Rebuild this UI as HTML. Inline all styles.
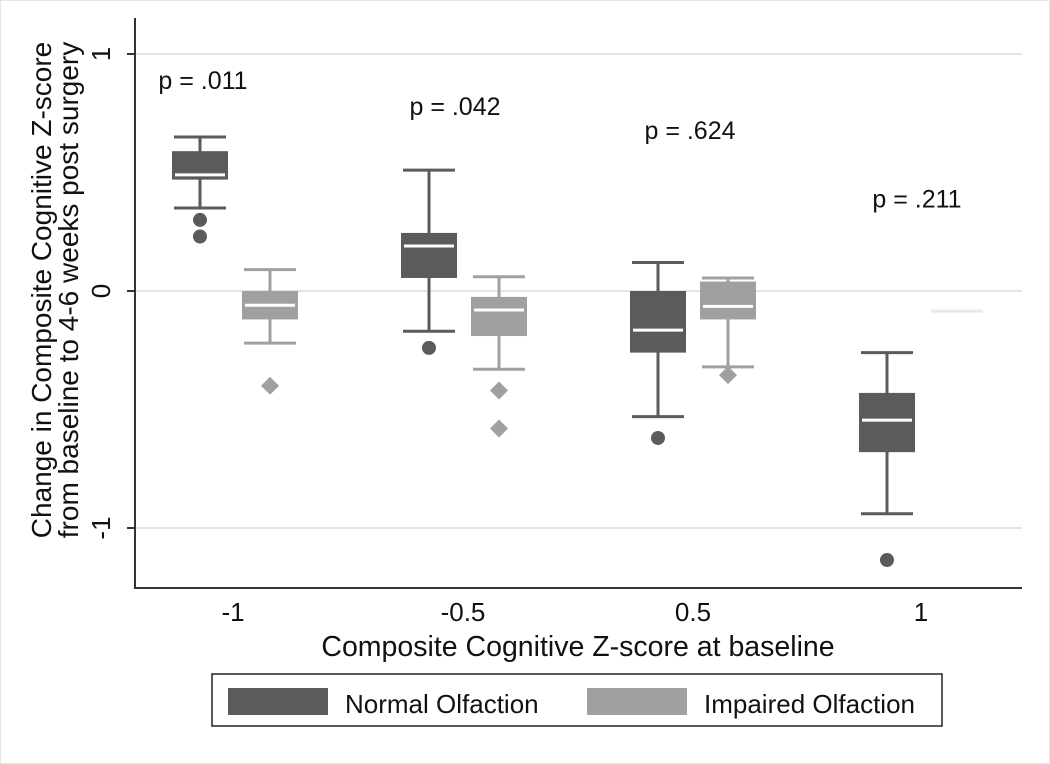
<!DOCTYPE html>
<html><head><meta charset="utf-8"><style>
html,body{margin:0;padding:0;background:#fff;overflow:hidden;width:1050px;height:764px}
svg{display:block;font-family:"Liberation Sans",Arial,sans-serif}
</style></head><body>
<svg id="c" width="1050" height="764" viewBox="0 0 1050 764">
<rect x="0.5" y="0.5" width="1049" height="763" fill="#fff" stroke="#e6e6e6"/>
<g id="grid"></g>
<g id="marks"></g>
<g id="axes"></g>
<g font-family="Liberation Sans, Arial, sans-serif" fill="#111">
<text x="51" y="290" font-size="28" text-anchor="middle" transform="rotate(-90 51 290)">Change in Composite Cognitive Z-score</text>
<text x="78" y="290" font-size="28" text-anchor="middle" transform="rotate(-90 78 290)">from baseline to 4-6 weeks post surgery</text>
<text x="578" y="656" font-size="28.5" text-anchor="middle">Composite Cognitive Z-score at baseline</text>
</g>
<g>
<rect x="212" y="674" width="730" height="52" fill="#fff" stroke="#222" stroke-width="1.5"/>
<rect x="228" y="688" width="100" height="27" fill="#5b5b5b"/>
<text x="345" y="713" font-size="26" fill="#111">Normal Olfaction</text>
<rect x="587" y="688" width="100" height="27" fill="#a0a0a0"/>
<text x="704" y="713" font-size="26" fill="#111">Impaired Olfaction</text>
</g>
</svg>
<script>
const groups = ["-1","-0.5","0.5","1"];
const pvals = ["p = .011","p = .042","p = .624","p = .211"];
const pvalY = [0.89, 0.78, 0.68, 0.39];
// [whiskerLow, q1, median, q3, whiskerHigh]
const normalStats = [[0.35,0.47,0.49,0.59,0.65],[-0.17,0.055,0.19,0.245,0.51],[-0.53,-0.26,-0.165,0.0,0.12],[-0.94,-0.68,-0.545,-0.43,-0.26]];
const impairedStats = [[-0.22,-0.12,-0.06,0.0,0.09],[-0.33,-0.19,-0.08,-0.025,0.06],[-0.32,-0.12,-0.065,0.04,0.055],[-0.085,-0.085,-0.085,-0.085,-0.085]];
const normalOutliers = [[0.30,0.23],[-0.24],[-0.62],[-1.135]];
const impairedOutliers = [[-0.40],[-0.42,-0.58],[-0.355],[]];
const yTicks = [1,0,-1];
const yTickLabels = ["1","0","-1"];

const NS='http://www.w3.org/2000/svg';
const X0=135,X1=1022,YT=18,YB=588;
function y(v){return 291-237*v;}
function xc(i,s){return 200+i*229+(s?70:0);}
function el(p,tag,a,txt){const e=document.createElementNS(NS,tag);for(const k in a)e.setAttribute(k,a[k]);if(txt!==undefined)e.textContent=txt;p.appendChild(e);return e;}
const grid=document.getElementById('grid'),marks=document.getElementById('marks'),axes=document.getElementById('axes');
yTicks.forEach((t,i)=>{
  const g=el(grid,'line',{x1:X0,x2:X1,y1:y(t),y2:y(t),stroke:'#e4e4e4','stroke-width':2});
  
  
  const tk=el(axes,'line',{x1:X0-8,x2:X0,y1:y(t),y2:y(t),stroke:'#333','stroke-width':2});
  
  
  const lb=el(axes,'text',{x:110,y:y(t),'font-size':26,'text-anchor':'middle',transform:`rotate(-90 110 ${y(t)})`,fill:'#111'},yTickLabels[i]);
  
  
});
function drawBox(st,i,s,col){
  const cx=xc(i,s),w=56,cap=52;
  const g=el(marks,'g',{});
  
  
  if(st[0]===st[4]){el(g,'line',{x1:cx-26,x2:cx+26,y1:y(st[2]),y2:y(st[2]),stroke:'#e8e8e8','stroke-width':3});return;}
  el(g,'line',{x1:cx,x2:cx,y1:y(st[4]),y2:y(st[0]),stroke:col,'stroke-width':3});
  el(g,'line',{x1:cx-cap/2,x2:cx+cap/2,y1:y(st[4]),y2:y(st[4]),stroke:col,'stroke-width':3});
  el(g,'line',{x1:cx-cap/2,x2:cx+cap/2,y1:y(st[0]),y2:y(st[0]),stroke:col,'stroke-width':3});
  el(g,'rect',{x:cx-w/2,y:y(st[3]),width:w,height:y(st[1])-y(st[3]),fill:col});
  el(g,'line',{x1:cx-w/2+3,x2:cx+w/2-3,y1:y(st[2]),y2:y(st[2]),stroke:'#fff','stroke-width':3});
}
normalStats.forEach((st,i)=>drawBox(st,i,0,'#5b5b5b'));
impairedStats.forEach((st,i)=>drawBox(st,i,1,'#a0a0a0'));
normalOutliers.forEach((arr,i)=>arr.forEach(v=>{
  const c=el(marks,'circle',{cx:xc(i,0),cy:y(v),r:7,fill:'#5b5b5b'});
  
  
}));
impairedOutliers.forEach((arr,i)=>arr.forEach(v=>{
  const cx=xc(i,1),cy=y(v);
  const d=el(marks,'polygon',{points:`${cx},${cy-9} ${cx+9},${cy} ${cx},${cy+9} ${cx-9},${cy}`,fill:'#a0a0a0'});
  
  
}));
const pX=[203,455,690,917];
pvals.forEach((p,i)=>{
  const t=el(marks,'text',{x:pX[i],y:y(pvalY[i])+9,'font-size':25,'text-anchor':'middle',fill:'#111'},p);
  
  
});
const xl=[233,463,693,921];
groups.forEach((g,i)=>{
  const t=el(axes,'text',{x:xl[i],y:621,'font-size':26,'text-anchor':'middle',fill:'#111'},g);
  
  
});
const ya=el(axes,'line',{x1:X0,x2:X0,y1:YT,y2:YB+1,stroke:'#333','stroke-width':2});


const xa=el(axes,'line',{x1:X0,x2:X1,y1:YB,y2:YB,stroke:'#333','stroke-width':2});


</script>
</body></html>
